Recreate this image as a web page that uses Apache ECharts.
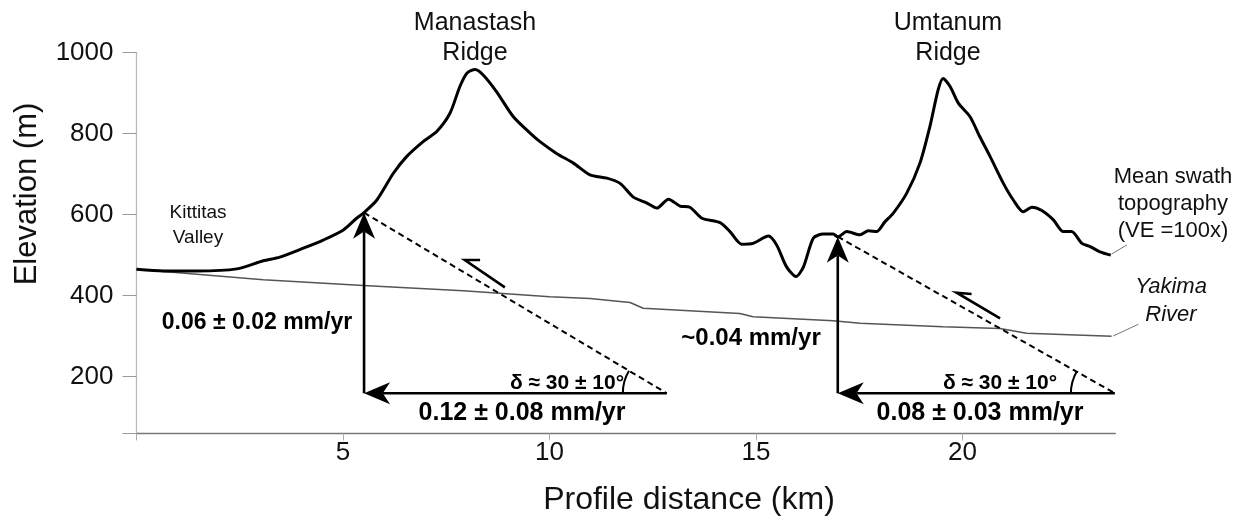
<!DOCTYPE html>
<html>
<head>
<meta charset="utf-8">
<script src="https://cdn.jsdelivr.net/npm/echarts@6/dist/echarts.min.js"></script>
<style>
  html, body { margin: 0; padding: 0; background: #fff; }
  #chart { width: 1247px; height: 520px; }
</style>
</head>
<body>
<div id="chart"></div>
<script>
// Mean swath topography along the profile: distance (km) and elevation (m)
const topoKm = [0.0, 0.65, 1.46, 2.43, 3.07, 3.47, 4.04, 4.52, 5.01, 5.33, 5.51, 5.82, 6.22, 6.54, 6.94, 7.27, 7.59, 7.83, 8.00, 8.20, 8.40, 8.72, 9.12, 9.53, 9.77, 10.17, 10.58, 10.98, 11.39, 11.71, 12.03, 12.35, 12.60, 12.88, 13.16, 13.40, 13.69, 14.13, 14.37, 14.65, 14.93, 15.30, 15.50, 15.74, 15.97, 16.15, 16.39, 16.63, 16.87, 16.98, 17.20, 17.52, 17.72, 17.92, 18.12, 18.32, 18.65, 18.97, 19.21, 19.41, 19.53, 19.70, 19.90, 20.18, 20.42, 20.67, 20.99, 21.23, 21.47, 21.68, 21.92, 22.20, 22.44, 22.64, 22.89, 23.09, 23.33, 23.59];
const topoElev = [465, 461, 461, 466, 486, 495, 517, 537, 562, 591, 605, 636, 702, 743, 780, 805, 850, 916, 949, 958, 944, 903, 842, 801, 780, 751, 727, 698, 690, 677, 643, 629, 616, 638, 621, 618, 591, 580, 558, 527, 529, 547, 525, 471, 447, 471, 542, 552, 552, 545, 558, 550, 560, 558, 582, 603, 653, 727, 817, 908, 936, 916, 875, 842, 792, 743, 677, 636, 607, 618, 610, 587, 558, 558, 529, 521, 508, 500];

// Yakima River longitudinal profile
const riverKm = [0.0, 3.07, 5.49, 7.91, 10.01, 10.98, 11.95, 12.27, 14.61, 14.93, 16.87, 17.52, 19.53, 20.91, 21.55, 23.61];
const riverElev = [465, 439, 425, 412, 397, 393, 383, 369, 356, 348, 338, 332, 323, 319, 307, 300];

// Axis ticks
const xTickValues = [0, 5, 10, 15, 20];
const xTickLabels = [5, 10, 15, 20];
const yTickValues = [60, 200, 400, 600, 800, 1000];
const yTickLabels = [200, 400, 600, 800, 1000];

// Uplift / shortening vectors [x0, y0, x1, y1], head at (x1, y1)
const rateVectors = [
  [5.51, 159, 5.51, 604.6],
  [12.84, 159, 5.51, 159],
  [16.98, 159, 16.98, 545.4],
  [23.69, 159, 16.98, 159]
];

// Dipping fault traces [x0, y0, x1, y1] (upper end first)
const faultTraces = [
  [5.51, 604.6, 12.84, 159],
  [16.98, 545.4, 23.69, 159]
];

// Hanging-wall slip sense [tailX, tailY, tipX, tipY, barbX, barbY]
const slipArrows = [
  [8.92, 420.5, 7.95, 487.9, 8.32, 487.9],
  [20.91, 344.0, 19.86, 407.2, 20.22, 404.0]
];

// Leader lines from the side labels to the curve ends [x0, y0, x1, y1]
const leaders = [
  [23.61, 502.7, 23.98, 525.0],
  [23.65, 300.3, 24.26, 329.5]
];

const FONT = '"Liberation Sans", Arial, sans-serif';

function zip(a, b) { return a.map((v, i) => [v, b[i]]); }

function renderVector(params, api) {
  const p0 = api.coord([api.value(0), api.value(1)]);
  const p1 = api.coord([api.value(2), api.value(3)]);
  const dx = p1[0] - p0[0], dy = p1[1] - p0[1];
  const len = Math.hypot(dx, dy);
  const ux = dx / len, uy = dy / len, nx = -uy, ny = ux;
  const L = 26, W = 11, N = 0.72 * L;
  const bx = p1[0] - ux * L, by = p1[1] - uy * L;
  const notch = [p1[0] - ux * N, p1[1] - uy * N];
  return {
    type: 'group',
    children: [
      { type: 'line', shape: { x1: p0[0], y1: p0[1], x2: notch[0], y2: notch[1] },
        style: { stroke: '#000', lineWidth: 2.6 } },
      { type: 'polygon', shape: { points: [p1, [bx + nx * W, by + ny * W], notch, [bx - nx * W, by - ny * W]] },
        style: { fill: '#000' } }
    ]
  };
}

function renderSlip(params, api) {
  const t = api.coord([api.value(0), api.value(1)]);
  const h = api.coord([api.value(2), api.value(3)]);
  const b = api.coord([api.value(4), api.value(5)]);
  return {
    type: 'polyline', shape: { points: [t, h, b] },
    style: { stroke: '#000', lineWidth: 2.6, fill: null, lineJoin: 'miter' }
  };
}

function renderLeader(params, api) {
  const a = api.coord([api.value(0), api.value(1)]);
  const b = api.coord([api.value(2), api.value(3)]);
  return {
    type: 'line', shape: { x1: a[0], y1: a[1], x2: b[0], y2: b[1] },
    style: { stroke: '#777', lineWidth: 1 }
  };
}

function renderAngle(params, api) {
  const top = api.coord([api.value(0), api.value(1)]);
  const foot = api.coord([api.value(2), api.value(3)]);
  let a = Math.atan2(top[1] - foot[1], top[0] - foot[0]);
  if (a < 0) a += Math.PI * 2;
  return {
    type: 'arc',
    shape: { cx: foot[0], cy: foot[1], r: 44, startAngle: Math.PI, endAngle: a, clockwise: true },
    style: { stroke: '#000', lineWidth: 2, fill: null }
  };
}

function txt(text, x, y, size, extra, rotation) {
  return {
    type: 'text', x: x, y: y, rotation: rotation || 0, silent: true,
    style: Object.assign({
      text: text, fill: '#111', font: size + 'px ' + FONT,
      align: 'center', verticalAlign: 'middle',
      textAlign: 'center', textVerticalAlign: 'middle'
    }, extra || {})
  };
}
function bold(text, x, y, size) {
  return txt(text, x, y, size, { font: 'bold ' + size + 'px ' + FONT, fill: '#000' });
}

const chart = echarts.init(document.getElementById('chart'), null, { renderer: 'canvas' });

chart.setOption({
  animation: false,
  backgroundColor: '#fff',
  grid: { left: 136.5, right: 131.7, top: 52.5, bottom: 86.6, containLabel: false },
  xAxis: {
    type: 'value', min: 0, max: 23.7,
    axisLine: { show: true, onZero: false, lineStyle: { color: '#777', width: 1.3 } },
    axisTick: { show: true, customValues: xTickValues, length: 7, lineStyle: { color: '#aaa', width: 1 } },
    axisLabel: { customValues: xTickLabels, fontSize: 26, fontFamily: FONT, color: '#111', margin: 6,
                 formatter: v => String(v) },
    splitLine: { show: false }
  },
  yAxis: {
    type: 'value', min: 60, max: 1000,
    axisLine: { show: true, onZero: false, lineStyle: { color: '#bbb', width: 1.3 } },
    axisTick: { show: true, customValues: yTickValues, length: 14, lineStyle: { color: '#999', width: 1 } },
    axisLabel: { customValues: yTickLabels, fontSize: 26, fontFamily: FONT, color: '#111', margin: 23,
                 formatter: v => String(v) },
    splitLine: { show: false }
  },
  series: [
    {
      name: 'Yakima River', type: 'line', data: zip(riverKm, riverElev),
      showSymbol: false, lineStyle: { color: '#555', width: 1.5 }, z: 2
    },
    {
      name: 'Mean swath topography', type: 'line', data: zip(topoKm, topoElev),
      showSymbol: false, smooth: 0.25, lineStyle: { color: '#000', width: 3 }, z: 5
    },
    {
      type: 'custom', renderItem: renderLeader, data: leaders, clip: false,
      encode: { x: [0, 2], y: [1, 3] }, z: 2
    },
    ...faultTraces.map(f => ({
      type: 'line', data: [[f[0], f[1]], [f[2], f[3]]], showSymbol: false,
      lineStyle: { color: '#000', width: 2, type: [6, 4] }, z: 4
    })),
    {
      type: 'custom', renderItem: renderAngle, data: faultTraces, clip: false,
      encode: { x: [0, 2], y: [1, 3] }, z: 4
    },
    {
      type: 'custom', renderItem: renderVector, data: rateVectors, clip: false,
      encode: { x: [0, 2], y: [1, 3] }, z: 6
    },
    {
      type: 'custom', renderItem: renderSlip, data: slipArrows, clip: false,
      encode: { x: [0, 2, 4], y: [1, 3, 5] }, z: 6
    }
  ],
  graphic: [
    txt('Elevation (m)', 27, 194, 31, {}, Math.PI / 2),
    txt('Profile distance (km)', 689, 500, 32),
    txt('Manastash', 475, 23, 25),
    txt('Ridge', 475, 53, 25),
    txt('Umtanum', 948, 23, 25),
    txt('Ridge', 948, 53, 25),
    txt('Kittitas', 198, 213, 19),
    txt('Valley', 198, 238, 19),
    txt('Mean swath', 1173, 177, 22),
    txt('topography', 1173, 204, 22),
    txt('(VE =100x)', 1173, 231, 22),
    txt('Yakima', 1171, 287, 22, { font: 'italic 22px ' + FONT }),
    txt('River', 1171, 315, 22, { font: 'italic 22px ' + FONT }),
    bold('0.06 \u00b1 0.02 mm/yr', 257, 323, 23),
    bold('~0.04 mm/yr', 751, 338, 24),
    bold('\u03b4 \u2248 30 \u00b1 10\u00b0', 567, 383, 21),
    bold('\u03b4 \u2248 30 \u00b1 10\u00b0', 1000, 383, 21),
    bold('0.12 \u00b1 0.08 mm/yr', 522, 413, 25),
    bold('0.08 \u00b1 0.03 mm/yr', 980, 413, 25)
  ]
});
</script>
</body>
</html>
